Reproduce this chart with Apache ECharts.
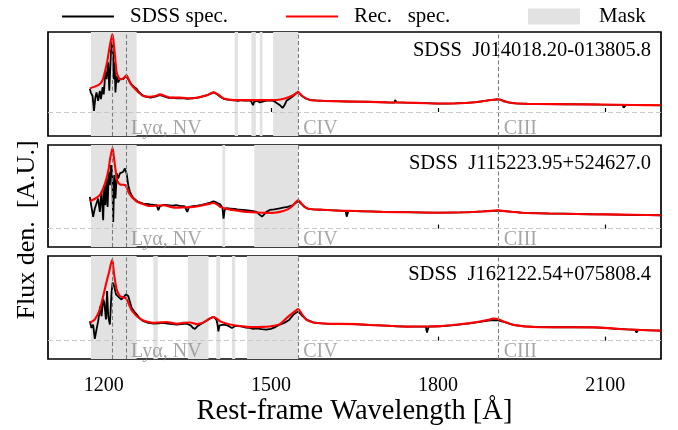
<!DOCTYPE html>
<html>
<head>
<meta charset="utf-8">
<script src="https://cdn.jsdelivr.net/npm/echarts@6/dist/echarts.min.js"></script>
<style>
  html, body { margin: 0; padding: 0; background: #fff; }
  #chart { width: 678px; height: 430px; }
</style>
</head>
<body>
<div id="chart"></div>
<script>
// ---- data -------------------------------------------------------------
const objectNames = ['SDSS  J014018.20-013805.8', 'SDSS  J115223.95+524627.0', 'SDSS  J162122.54+075808.4'];
const xTicks = [1200, 1500, 1800, 2100];
const lineWaves = [1215.67, 1240.14, 1549.06, 1908.73];
const lineLabels = [['Lyα, NV', 1240.14], ['CIV', 1549.06], ['CIII', 1908.73]];

// masked wavelength windows [start, end] per object
const mask1 = [[1177, 1259], [1435, 1441], [1465, 1473], [1480, 1485], [1504, 1549]];
const mask2 = [[1177, 1259], [1413, 1418], [1470, 1549]];
const mask3 = [[1177, 1259], [1289, 1297], [1351, 1388], [1402, 1409], [1430, 1436], [1457, 1549]];

// observed spectra [wavelength, flux]
const spec1 = [[1175,0.29],[1177,0.24],[1180,0.20],[1182.5,0.013],[1185,0.18],[1187,0.245],[1190,0.14],[1193,0.265],[1195,0.16],[1198,0.31],[1200,0.22],[1203,0.50],[1205,0.41],[1208,0.62],[1210,0.265],[1213,0.75],[1215,0.876],[1217,0.71],[1218,0.41],[1219.5,0.62],[1221,0.245],[1223,0.45],[1226,0.37],[1229,0.41],[1232,0.39],[1235,0.41],[1239,0.45],[1244,0.41],[1250,0.34],[1255,0.31],[1259,0.29],[1263,0.25],[1268,0.22],[1272,0.20],[1278,0.19],[1284,0.18],[1290,0.19],[1296,0.20],[1301,0.21],[1306,0.2],[1312,0.185],[1318,0.175],[1324,0.18],[1330,0.17],[1337,0.175],[1344,0.17],[1350,0.165],[1356,0.17],[1362,0.175],[1370,0.18],[1378,0.195],[1386,0.21],[1392,0.23],[1397,0.245],[1403,0.225],[1409,0.19],[1415,0.165],[1422,0.155],[1430,0.15],[1436,0.145],[1441,0.14],[1446,0.148],[1452,0.142],[1458,0.145],[1464,0.14],[1468,0.085],[1470,0.13],[1476,0.14],[1480,0.12],[1483,0.14],[1490,0.14],[1496,0.145],[1504,0.14],[1509,0.12],[1513,0.10],[1517,0.08],[1521,0.05],[1524,0.08],[1528,0.14],[1534,0.17],[1540,0.20],[1545,0.23],[1549,0.25],[1555,0.205],[1562,0.17],[1570,0.152],[1580,0.145],[1595,0.14],[1610,0.136],[1625,0.134],[1640,0.13],[1655,0.13],[1670,0.128],[1690,0.124],[1705,0.121],[1722,0.118],[1723,0.15],[1725,0.12],[1740,0.117],[1760,0.115],[1780,0.11],[1800,0.105],[1815,0.104],[1830,0.107],[1850,0.113],[1870,0.124],[1890,0.145],[1905,0.158],[1912,0.155],[1925,0.12],[1940,0.108],[1960,0.103],[1980,0.1],[2000,0.098],[2030,0.097],[2060,0.095],[2090,0.092],[2120,0.09],[2131,0.088],[2133,0.055],[2137,0.085],[2160,0.087],[2180,0.085],[2200,0.084]];
const spec2 = [[1175,0.38],[1178,0.26],[1181,0.14],[1184,0.24],[1187,0.26],[1190,0.36],[1193,0.2],[1196,0.44],[1199,0.10],[1201,0.52],[1203,0.28],[1205,0.60],[1207,0.26],[1209,0.68],[1211,0.52],[1213,0.76],[1215,0.68],[1217,0.08],[1219,0.64],[1221,0.36],[1223.6,0.66],[1226,0.60],[1229,0.66],[1232,0.64],[1235,0.68],[1238,0.72],[1241,0.66],[1244,0.52],[1247,0.44],[1250,0.40],[1253,0.367],[1258,0.34],[1262,0.32],[1266,0.31],[1271,0.30],[1277,0.295],[1283,0.29],[1290,0.285],[1295,0.28],[1298,0.22],[1301,0.27],[1308,0.285],[1315,0.28],[1322,0.275],[1330,0.28],[1338,0.27],[1345,0.27],[1350,0.2],[1353,0.26],[1360,0.27],[1368,0.275],[1376,0.285],[1385,0.30],[1391,0.31],[1397,0.327],[1403,0.31],[1409,0.29],[1413,0.25],[1415,0.12],[1417,0.22],[1420,0.245],[1428,0.24],[1435,0.235],[1440,0.23],[1448,0.225],[1455,0.22],[1462,0.215],[1468,0.21],[1474,0.2],[1479,0.17],[1484,0.143],[1488,0.17],[1492,0.2],[1498,0.223],[1506,0.23],[1514,0.24],[1522,0.25],[1530,0.26],[1540,0.28],[1545,0.31],[1549,0.33],[1554,0.30],[1560,0.26],[1566,0.24],[1575,0.23],[1585,0.228],[1595,0.225],[1605,0.22],[1615,0.218],[1625,0.215],[1634,0.21],[1636,0.143],[1639,0.21],[1650,0.21],[1665,0.207],[1680,0.205],[1700,0.2],[1720,0.198],[1740,0.196],[1760,0.194],[1780,0.19],[1800,0.19],[1820,0.19],[1840,0.193],[1860,0.198],[1880,0.205],[1895,0.212],[1908,0.216],[1920,0.21],[1935,0.2],[1950,0.19],[1975,0.185],[2000,0.18],[2025,0.178],[2050,0.175],[2075,0.172],[2100,0.17],[2120,0.168],[2140,0.165],[2160,0.163],[2180,0.161],[2200,0.16]];
const spec3 = [[1175,0.23],[1178,0.15],[1181,0.19],[1184,0.02],[1187,0.13],[1190,0.23],[1194,0.41],[1196,0.29],[1199,0.487],[1201,0.45],[1204,0.25],[1206,0.587],[1208,0.29],[1211,0.19],[1214,0.567],[1216,0.685],[1217.5,0.70],[1219,0.64],[1222,0.546],[1225,0.567],[1228,0.507],[1232,0.487],[1235,0.507],[1240,0.546],[1244,0.527],[1250,0.388],[1255,0.34],[1259,0.31],[1265,0.26],[1271,0.23],[1280,0.21],[1289,0.20],[1298,0.205],[1307,0.21],[1315,0.2],[1323,0.195],[1331,0.19],[1340,0.195],[1349,0.20],[1356,0.18],[1360,0.15],[1364,0.139],[1368,0.17],[1373,0.19],[1382,0.227],[1390,0.26],[1397,0.28],[1402,0.25],[1404,0.2],[1405.7,0.11],[1408,0.18],[1415,0.19],[1422,0.18],[1430,0.15],[1437,0.175],[1445,0.17],[1455,0.155],[1462,0.15],[1468,0.14],[1475,0.145],[1483,0.135],[1492,0.13],[1500,0.14],[1508,0.16],[1516,0.19],[1524,0.21],[1532,0.24],[1540,0.305],[1545,0.33],[1549,0.344],[1555,0.3],[1564,0.25],[1576,0.215],[1590,0.205],[1606,0.198],[1625,0.196],[1645,0.195],[1665,0.19],[1684,0.183],[1705,0.178],[1725,0.17],[1744,0.166],[1765,0.165],[1778,0.165],[1780,0.095],[1783,0.165],[1803,0.17],[1825,0.18],[1845,0.195],[1860,0.208],[1875,0.222],[1890,0.236],[1900,0.242],[1908,0.24],[1918,0.222],[1935,0.186],[1955,0.168],[1983,0.16],[2010,0.158],[2043,0.159],[2079,0.157],[2100,0.15],[2118,0.14],[2120,0.127],[2123,0.14],[2140,0.133],[2154,0.128],[2156,0.095],[2159,0.126],[2180,0.122],[2200,0.118]];

// reconstructed spectra [wavelength, flux]
const rec1 = [[1175,0.295],[1185,0.32],[1193,0.35],[1198,0.40],[1202,0.50],[1206,0.62],[1210,0.79],[1213,0.90],[1215.5,0.97],[1217,0.92],[1219,0.79],[1221,0.64],[1223,0.50],[1226,0.44],[1229,0.41],[1232,0.41],[1235,0.42],[1238,0.44],[1241,0.46],[1244,0.42],[1247,0.37],[1251,0.33],[1256,0.29],[1263,0.24],[1271,0.20],[1283,0.19],[1292,0.20],[1301,0.22],[1310,0.20],[1319,0.18],[1337,0.18],[1355,0.17],[1370,0.185],[1385,0.21],[1397,0.245],[1405,0.22],[1415,0.17],[1425,0.155],[1439,0.148],[1460,0.148],[1486,0.148],[1510,0.15],[1525,0.17],[1540,0.21],[1549,0.25],[1556,0.2],[1570,0.15],[1590,0.14],[1618,0.135],[1650,0.13],[1678,0.126],[1710,0.12],[1738,0.118],[1780,0.11],[1815,0.106],[1840,0.11],[1870,0.125],[1895,0.15],[1908,0.16],[1920,0.13],[1935,0.11],[1977,0.10],[2037,0.097],[2096,0.093],[2150,0.088],[2200,0.085]];
const rec2 = [[1175,0.327],[1185,0.36],[1193,0.40],[1200,0.50],[1205,0.60],[1209,0.72],[1211,0.82],[1214,0.92],[1216,0.965],[1218,0.87],[1220,0.76],[1222,0.66],[1224,0.58],[1227,0.54],[1230,0.526],[1235,0.525],[1239,0.52],[1242,0.48],[1245,0.43],[1249,0.39],[1253,0.36],[1260,0.32],[1268,0.30],[1276,0.28],[1283,0.27],[1295,0.275],[1307,0.28],[1320,0.26],[1331,0.25],[1345,0.255],[1361,0.26],[1372,0.27],[1382,0.287],[1392,0.30],[1397,0.307],[1403,0.29],[1409,0.26],[1418,0.24],[1427,0.227],[1440,0.215],[1457,0.20],[1475,0.192],[1492,0.188],[1505,0.19],[1516,0.2],[1530,0.23],[1540,0.28],[1549,0.343],[1556,0.29],[1564,0.244],[1575,0.232],[1594,0.225],[1620,0.215],[1654,0.21],[1700,0.2],[1750,0.195],[1800,0.19],[1850,0.195],[1880,0.205],[1908,0.218],[1925,0.205],[1950,0.19],[2000,0.18],[2050,0.175],[2100,0.17],[2150,0.165],[2200,0.16]];
const rec3 = [[1175,0.21],[1184,0.25],[1193,0.37],[1202,0.61],[1206,0.72],[1210,0.82],[1213,0.91],[1215.5,0.955],[1217,0.88],[1219,0.765],[1223,0.61],[1226,0.56],[1229,0.527],[1235,0.51],[1238,0.507],[1241,0.49],[1244,0.448],[1250,0.36],[1255,0.32],[1259,0.29],[1265,0.26],[1271,0.238],[1280,0.22],[1289,0.21],[1300,0.215],[1313,0.22],[1322,0.21],[1331,0.20],[1342,0.21],[1355,0.215],[1367,0.195],[1375,0.205],[1382,0.227],[1390,0.26],[1397,0.28],[1403,0.26],[1409,0.227],[1418,0.205],[1427,0.19],[1440,0.175],[1457,0.163],[1470,0.16],[1486,0.163],[1500,0.17],[1516,0.195],[1528,0.266],[1540,0.33],[1549,0.373],[1556,0.31],[1564,0.246],[1576,0.214],[1590,0.205],[1606,0.198],[1624,0.198],[1654,0.195],[1684,0.183],[1714,0.174],[1744,0.166],[1775,0.167],[1803,0.172],[1825,0.184],[1845,0.198],[1860,0.21],[1875,0.226],[1890,0.245],[1899,0.261],[1908,0.253],[1920,0.22],[1935,0.186],[1955,0.168],[1983,0.159],[2043,0.159],[2079,0.157],[2105,0.148],[2132,0.135],[2160,0.127],[2192,0.119],[2200,0.118]];

// per-panel vertical ranges
const yMins = [-0.3, -0.22, -0.217];
const yMaxs = [1.0, 1.0, 1.0];
const labelLevels = [-0.215, -0.136, -0.134];

const specs = [spec1, spec2, spec3];
const recs = [rec1, rec2, rec3];
const masks = [mask1, mask2, mask3];

// ---- layout -----------------------------------------------------------
const SERIF = '"Liberation Serif", "DejaVu Serif", serif';
const gridTops = [32, 145, 256];
const gridHeights = [104, 102, 103];
const LINE_ICON = 'path://M0,0H50V2H0Z';
const MASK_COLOR = '#e2e2e2';

const grids = gridTops.map((t, i) => ({
  left: 48, right: 17, top: t, height: gridHeights[i],
  show: true, borderColor: '#000', borderWidth: 1.7, backgroundColor: '#fff'
}));

const xAxes = gridTops.map((t, i) => ({
  type: 'value', gridIndex: i, min: 1100, max: 2200,
  axisLine: { show: false },
  splitLine: { show: false },
  axisTick: { show: true, inside: true, length: 4, customValues: xTicks,
              lineStyle: { color: '#000', width: 1.2 } },
  axisLabel: { show: i === 2, customValues: xTicks, margin: 17,
               formatter: v => String(v),
               fontFamily: SERIF, fontSize: 20, color: '#000' },
  name: i === 2 ? 'Rest-frame Wavelength [Å]' : '',
  nameLocation: 'middle', nameGap: 35,
  nameTextStyle: { fontFamily: SERIF, fontSize: 28.5, color: '#000', verticalAlign: 'top' }
}));

const yAxes = gridTops.map((t, i) => ({
  type: 'value', gridIndex: i, min: yMins[i], max: yMaxs[i],
  axisLine: { show: false }, axisTick: { show: false },
  axisLabel: { show: false }, splitLine: { show: false }
}));

const series = [];
for (let i = 0; i < 3; i++) {
  // masked windows, reference lines and zero level
  series.push({
    name: 'Mask', type: 'line', xAxisIndex: i, yAxisIndex: i, data: [],
    symbol: 'none', z: 1, silent: true,
    itemStyle: { color: MASK_COLOR },
    markArea: {
      silent: true,
      itemStyle: { color: MASK_COLOR },
      data: masks[i].map(m => [{ xAxis: m[0] }, { xAxis: m[1] }])
    },
    markLine: {
      silent: true, symbol: 'none', animation: false,
      label: { show: false },
      data: [
        ...lineWaves.map(w => ({ xAxis: w, lineStyle: { color: '#7a7a7a', type: [4, 2.5], width: 1.1 } })),
        { yAxis: 0, lineStyle: { color: '#c8c8c8', type: [5, 3], width: 1 } }
      ]
    }
  });
  series.push({
    name: 'SDSS spec.', type: 'line', xAxisIndex: i, yAxisIndex: i,
    data: specs[i], symbol: 'none', z: 3,
    lineStyle: { color: '#000', width: 1.8 }, itemStyle: { color: '#000' }
  });
  series.push({
    name: 'Rec.   spec.', type: 'line', xAxisIndex: i, yAxisIndex: i,
    data: recs[i], symbol: 'none', z: 4, smooth: 0.2,
    lineStyle: { color: '#ff0000', width: 2.1 }, itemStyle: { color: '#ff0000' }
  });
  // emission-line names
  series.push({
    name: 'lines', type: 'scatter', xAxisIndex: i, yAxisIndex: i,
    symbolSize: 0, z: 2, silent: true,
    data: lineLabels.map(l => ({ name: l[0], value: [l[1], labelLevels[i]] })),
    label: { show: true, position: 'right', distance: 5, formatter: p => p.name,
             fontFamily: SERIF, fontSize: 20, color: '#909090' }
  });
}

// one legend box per entry so each can sit at its own spot
const legendEntries = [
  { name: 'SDSS spec.', icon: LINE_ICON, left: 57 },
  { name: 'Rec.   spec.', icon: LINE_ICON, left: 281 },
  { name: 'Mask', icon: 'rect', left: 523, itemStyle: { color: MASK_COLOR } }
];
const legends = legendEntries.map(e => ({
  top: 1, left: e.left, itemWidth: 52, itemHeight: 16,
  selectedMode: false,
  textStyle: { fontFamily: SERIF, fontSize: 21, color: '#000',
               padding: [0, 0, 0, e.icon === 'rect' ? 14 : 11] },
  data: [e.itemStyle ? { name: e.name, icon: e.icon, itemStyle: e.itemStyle } : { name: e.name, icon: e.icon }]
}));

const chart = echarts.init(document.getElementById('chart'), null, { renderer: 'canvas' });
chart.setOption({
  animation: false,
  backgroundColor: '#fff',
  legend: legends,
  title: objectNames.map((n, i) => ({
    text: n, right: 22, top: gridTops[i] + 3,
    textStyle: { fontFamily: SERIF, fontSize: 20.5, fontWeight: 'normal', color: '#000' }
  })),
  grid: grids,
  xAxis: xAxes,
  yAxis: yAxes,
  series: series,
  graphic: [{
    type: 'text', rotation: Math.PI / 2, x: 27, y: 230,
    style: { text: 'Flux den.  [A.U.]', fontFamily: SERIF, fontSize: 26, fill: '#000',
             align: 'center', verticalAlign: 'middle' }
  }]
});
</script>
</body>
</html>
